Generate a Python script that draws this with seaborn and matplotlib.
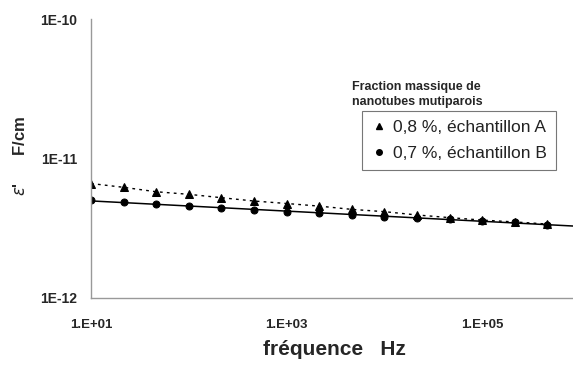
import numpy as np
import matplotlib
matplotlib.use("Agg")
import matplotlib.pyplot as plt
from matplotlib.lines import Line2D
from matplotlib.ticker import FixedLocator, NullLocator
import seaborn as sns

# fréquences (Hz), trois points par décade
freq = [1.0e1, 2.15e1, 4.64e1, 1.0e2, 2.15e2, 4.64e2, 1.0e3, 2.15e3, 4.64e3,
        1.0e4, 2.15e4, 4.64e4, 1.0e5, 2.15e5, 4.64e5]

# permittivité réelle (F/cm)
eps_a = [6.62e-12, 6.22e-12, 5.78e-12, 5.54e-12, 5.24e-12, 4.96e-12, 4.76e-12, 4.56e-12,
         4.32e-12, 4.16e-12, 3.94e-12, 3.77e-12, 3.62e-12, 3.51e-12, 3.39e-12]
eps_b = [5.04e-12, 4.85e-12, 4.74e-12, 4.56e-12, 4.40e-12, 4.27e-12, 4.16e-12, 4.05e-12,
         3.94e-12, 3.83e-12, 3.77e-12, 3.68e-12, 3.58e-12, 3.49e-12, 3.34e-12]

labels = ["0,8 %, échantillon A", "0,7 %, échantillon B"]
x_ticks = [1e1, 1e3, 1e5]
x_ticklabels = ["1.E+01", "1.E+03", "1.E+05"]
y_ticks = [1e-12, 1e-11, 1e-10]
y_ticklabels = ["1E-12", "1E-11", "1E-10"]

sns.set_style("white")
plt.rcParams['font.family'] = ['Liberation Sans', 'DejaVu Sans']

fig = plt.figure(figsize=(5.73, 3.65), dpi=100)
ax = fig.add_axes([0.1588, 0.1836, 0.8412, 0.764])

# échantillon A : points reliés en pointillés
sns.lineplot(x=freq, y=eps_a, ax=ax, color="black", marker="^", markersize=5.5,
             markeredgecolor="black", linestyle=(0, (2, 3)), linewidth=1.0)

# échantillon B : points + courbe de tendance (puissance)
xmax = 10 ** (1 + 482 / 97.8)
p = np.polyfit(np.log10(freq), np.log10(eps_b), 1)
xt = np.array([10.0, xmax])
ax.plot(xt, 10 ** np.polyval(p, np.log10(xt)), color="black", linewidth=1.1)
sns.lineplot(x=freq, y=eps_b, ax=ax, color="black", marker="o", markersize=5,
             markeredgecolor="black", linestyle="none")

ax.set_xscale("log")
ax.set_yscale("log")
ax.set_xlim(10, xmax)
ax.set_ylim(1e-12, 1e-10)

ax.xaxis.set_major_locator(FixedLocator(x_ticks))
ax.xaxis.set_minor_locator(NullLocator())
ax.yaxis.set_major_locator(FixedLocator(y_ticks))
ax.yaxis.set_minor_locator(NullLocator())
ax.set_xticklabels(x_ticklabels, fontsize=9.5, fontweight="bold")
ax.set_yticklabels(y_ticklabels, fontsize=10, fontweight="bold")
ax.tick_params(axis="x", direction="inout", length=8, width=0.8, color="#888888", pad=11)
ax.tick_params(axis="y", direction="out", length=4, width=0.8, color="#888888", pad=6)

for s in ["top", "right"]:
    ax.spines[s].set_visible(False)
for s in ["left", "bottom"]:
    ax.spines[s].set_color("#999999")
    ax.spines[s].set_linewidth(1.0)

ax.set_xlabel("fréquence   Hz", fontsize=15, fontweight="bold")
ax.xaxis.set_label_coords(0.506, -0.152)
ax.set_ylabel(r"$\varepsilon$'      F/cm", fontsize=12, fontweight="bold")
ax.yaxis.set_label_coords(-0.13, 0.509)

handles = [Line2D([], [], color="black", marker="^", markersize=4.5, linestyle="none"),
           Line2D([], [], color="black", marker="o", markersize=4, linestyle="none")]
leg = ax.legend(handles, labels, loc="upper left", bbox_to_anchor=(0.562, 0.670),
                fontsize=12.5, frameon=True, fancybox=False, handletextpad=0.3,
                handlelength=1.0, borderpad=0.5, labelspacing=0.65, borderaxespad=0)
leg.get_frame().set_edgecolor("#555555")
leg.get_frame().set_linewidth(0.8)
for t in leg.get_texts():
    t.set_color("#222222")

fig.text(0.614, 0.777, "Fraction massique de\nnanotubes mutiparois", fontsize=9,
         fontweight="bold", ha="left", va="top", linespacing=1.3)

fig.savefig("out.png", dpi=100)
